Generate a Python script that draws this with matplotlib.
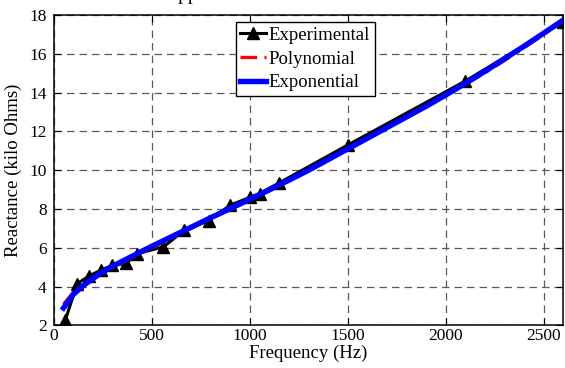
import matplotlib
matplotlib.use("Agg")
import matplotlib.pyplot as plt

plt.rcParams["font.family"] = ["Liberation Serif", "DejaVu Serif"]
plt.rcParams["mathtext.fontset"] = "stix"

# Measured reactance (kilo Ohms) versus frequency (Hz)
freq_exp = [60, 120, 180, 240, 300, 370, 425, 560, 665, 790, 900, 1000, 1050, 1150, 1500, 2100, 2600]
react_exp = [2.3, 4.15, 4.55, 4.85, 5.1, 5.2, 5.7, 6.05, 6.9, 7.4, 8.2, 8.6, 8.8, 9.35, 11.3, 14.6, 17.65]

# Fitted curves sampled along the frequency axis
freq_fit = [50, 100, 150, 200, 250, 300, 400, 500, 600, 700, 800, 900, 1000, 1100, 1200,
            1300, 1400, 1500, 1600, 1700, 1800, 1900, 2000, 2100, 2200, 2300, 2400, 2500, 2600]
react_poly = [3.1, 3.7, 4.1, 4.42, 4.72, 5.0, 5.5, 6.0, 6.5, 7.0, 7.5, 7.98, 8.48, 8.98, 9.5,
              10.02, 10.55, 11.1, 11.64, 12.18, 12.73, 13.28, 13.85, 14.43, 15.03, 15.66, 16.32, 17.0, 17.7]
react_expo = [2.9, 3.6, 4.05, 4.42, 4.75, 5.05, 5.57, 6.08, 6.57, 7.06, 7.55, 8.02, 8.5, 8.99, 9.49,
              10.0, 10.55, 11.1, 11.65, 12.2, 12.75, 13.3, 13.88, 14.48, 15.1, 15.75, 16.4, 17.07, 17.75]

x_ticks = [0, 500, 1000, 1500, 2000, 2500]
y_ticks = [2, 4, 6, 8, 10, 12, 14, 16, 18]

fig = plt.figure(figsize=(5.65, 3.68), dpi=100)
ax = fig.add_axes([0.095, 0.1155, 0.9023, 0.8437])

ax.plot(freq_exp, react_exp, color="black", lw=2.2, marker="^", ms=8.5,
        mfc="black", mec="black", label="Experimental", zorder=3)
ax.plot(freq_fit, react_poly, color="#ff0000", lw=2.4, linestyle=(0, (5, 2.2, 1.2, 2.2)),
        label="Polynomial", zorder=4)
ax.plot(freq_fit, react_expo, color="#0000ff", lw=3.9, label="Exponential", zorder=5)

ax.set_xlim(0, 2600)
ax.set_ylim(2, 18)
ax.set_xticks(x_ticks)
ax.set_yticks(y_ticks)
ax.tick_params(direction="in", length=5, width=0.8, top=True, right=True,
               labelsize=12.5, pad=5)
ax.tick_params(axis="x", pad=2)
for s in ax.spines.values():
    s.set_linewidth(1.1)

ax.grid(True, color="0.35", linestyle=(0, (6, 4)), linewidth=0.9)
ax.set_axisbelow(True)

ax.set_xlabel("Frequency (Hz)", fontsize=13.5, labelpad=0.5)
ax.set_ylabel("Reactance (kilo Ohms)", fontsize=13.5, labelpad=5)

leg = ax.legend(loc="upper left", bbox_to_anchor=(0.357, 0.978), borderaxespad=0,
                fontsize=13.5, frameon=True, fancybox=False, framealpha=1,
                edgecolor="black", handlelength=1.35, handletextpad=0.15,
                labelspacing=0.36, borderpad=0.25)
leg.get_frame().set_linewidth(1.0)

fig.text(164 / 565, 1.0, "Approximation of Reactance", fontsize=14,
         ha="left", va="baseline")

fig.savefig("out.png", dpi=100)
